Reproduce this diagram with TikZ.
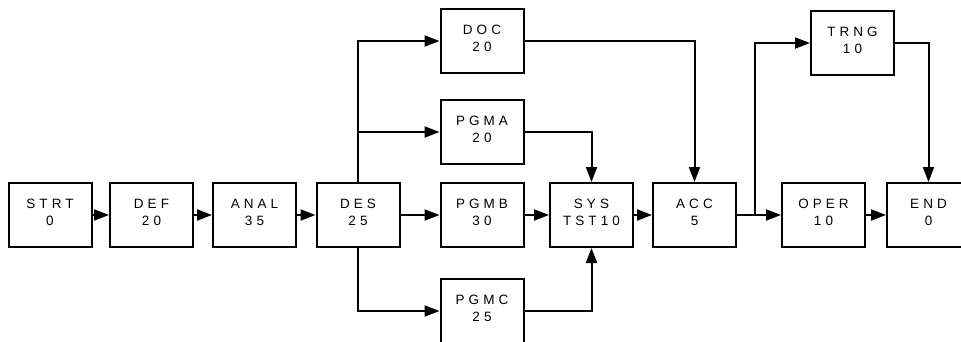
\documentclass[tikz,border=0pt]{standalone}
\usepackage{fontspec}
\setmainfont[LetterSpace=30]{Liberation Sans}
\usetikzlibrary{arrows.meta}
\tikzset{
  box/.style={draw, line width=2pt, minimum width=83pt, minimum height=64pt, inner sep=0pt,
    fill=white, label={[align=center, yshift=2.5pt, font=\fontsize{13.5pt}{17pt}\selectfont]center:#1}},
  conn/.style={line width=2pt, -{Triangle[length=15pt,width=11pt]}}
}
\begin{document}
\begin{tikzpicture}[x=1pt,y=-1pt]
\useasboundingbox (0,0) rectangle (961,341);
\node[box={STRT\\0}] (strt) at (50,215) {};
\node[box={DEF\\20}] (def) at (151.5,215) {};
\node[box={ANAL\\35}] (anal) at (254.5,215) {};
\node[box={DES\\25}] (des) at (358,215) {};
\node[box={DOC\\20}] (doc) at (482,41) {};
\node[box={PGMA\\20}] (pgma) at (482,132) {};
\node[box={PGMB\\30}] (pgmb) at (482,215) {};
\node[box={PGMC\\25}] (pgmc) at (482,311) {};
\node[box={SYS\\TST10}] (sys) at (591.5,215) {};
\node[box={ACC\\5}] (acc) at (694.5,215) {};
\node[box={TRNG\\10}] (trng) at (852.5,43) {};
\node[box={OPER\\10}] (oper) at (823.5,215) {};
\node[box={END\\0}] (end) at (928.5,215) {};
\coordinate (br) at (755,215);
\draw[conn] (strt.east) -- (def.west);
\draw[conn] (def.east) -- (anal.west);
\draw[conn] (anal.east) -- (des.west);
\draw[conn] (des.north) |- (doc.west);
\draw[conn] (des.north) |- (pgma.west);
\draw[conn] (des.east) -- (pgmb.west);
\draw[conn] (des.south) |- (pgmc.west);
\draw[conn] (pgma.east) -| (sys.north);
\draw[conn] (pgmb.east) -- (sys.west);
\draw[conn] (pgmc.east) -| (sys.south);
\draw[conn] (sys.east) -- (acc.west);
\draw[conn] (doc.east) -| (acc.north);
\draw[conn] (acc.east) -- (oper.west);
\draw[conn] (br) |- (trng.west);
\draw[conn] (trng.east) -| (end.north);
\draw[conn] (oper.east) -- (end.west);
\end{tikzpicture}
\end{document}
